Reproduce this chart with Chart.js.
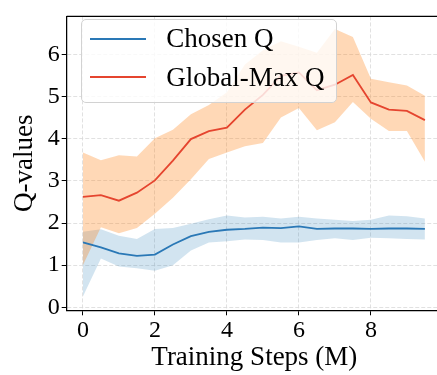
<!DOCTYPE html>
<html><head><meta charset="utf-8">
<script src="https://cdn.jsdelivr.net/npm/chart.js@4"></script>
<style>
html,body{margin:0;padding:0;background:#fff;overflow:hidden;}
#wrap{position:relative;width:437px;height:375px;overflow:hidden;}
#c{position:absolute;left:0;top:0;}
#legendBox{position:absolute;left:80.5px;top:19px;width:256.5px;height:84px;border:1px solid #d2d2d2;border-radius:5px;background:rgba(255,255,255,0.8);box-sizing:border-box;}
.lgLine{position:absolute;height:2px;width:56px;left:90px;}
.lgText{position:absolute;left:166.2px;font-family:'Liberation Serif','Times New Roman',serif;font-size:27px;line-height:27px;color:#000;white-space:nowrap;}
</style>
</head>
<body>
<div id="wrap">
<canvas id="c" width="450" height="375"></canvas>
<div id="legendBox"></div>
</div>
<script>
// ---- data ----
const steps = [0, 0.5, 1, 1.5, 2, 2.5, 3, 3.5, 4, 4.5, 5, 5.5, 6, 6.5, 7, 7.5, 8, 8.5, 9, 9.5];
const chosenMean  = [1.54, 1.42, 1.28, 1.22, 1.25, 1.49, 1.69, 1.79, 1.84, 1.86, 1.89, 1.88, 1.92, 1.86, 1.87, 1.87, 1.86, 1.87, 1.87, 1.86];
const chosenUpper = [1.79, 1.85, 1.70, 1.62, 1.86, 1.88, 1.98, 2.09, 2.18, 2.13, 2.15, 2.11, 2.15, 2.11, 2.08, 2.05, 2.08, 2.18, 2.16, 2.11];
const chosenLower = [0.26, 1.16, 0.97, 0.93, 0.87, 1.00, 1.35, 1.54, 1.57, 1.61, 1.60, 1.54, 1.54, 1.60, 1.64, 1.60, 1.65, 1.64, 1.62, 1.61];
const globalMean  = [2.62, 2.66, 2.53, 2.72, 3.01, 3.48, 3.99, 4.18, 4.26, 4.69, 5.04, 5.49, 5.57, 5.15, 5.28, 5.51, 4.86, 4.69, 4.66, 4.44];
const globalUpper = [3.67, 3.49, 3.61, 3.58, 4.01, 4.21, 4.58, 4.80, 5.10, 5.76, 6.10, 6.31, 6.18, 6.04, 6.60, 6.41, 5.42, 5.34, 5.26, 5.02];
const globalLower = [1.00, 1.90, 1.76, 1.88, 2.22, 2.60, 3.04, 3.52, 3.67, 3.82, 3.90, 4.50, 4.73, 4.20, 4.39, 4.87, 4.47, 4.18, 4.18, 3.45];
const xTicks = [0, 2, 4, 6, 8];
const yTicks = [0, 1, 2, 3, 4, 5, 6];
const seriesNames = ['Chosen Q', 'Global-Max Q'];
const xTitle = 'Training Steps (M)';
const yTitle = 'Q-values';

// ---- styles ----
const BLUE = '#2a78b6';
const RED = '#e5452f';
const BLUE_FILL = 'rgba(31,119,180,0.2)';
const ORANGE_FILL = 'rgba(255,127,14,0.3)';
const FONT = "'Liberation Serif','Times New Roman',serif";

function pts(arr) { return steps.map((x, i) => ({x: x, y: arr[i]})); }

// legend (HTML)
const wrap = document.getElementById('wrap');
[[seriesNames[0], BLUE, 38, 25.4], [seriesNames[1], RED, 76, 64.4]].forEach(([name, col, ly, ty]) => {
  const l = document.createElement('div'); l.className = 'lgLine';
  l.style.top = ly + 'px'; l.style.background = col; wrap.appendChild(l);
  const t = document.createElement('div'); t.className = 'lgText';
  t.style.top = ty + 'px'; t.textContent = name; wrap.appendChild(t);
});

const framePlugin = {
  id: 'frame',
  afterDatasetsDraw(chart) {
    const {ctx, chartArea: a} = chart;
    ctx.save();
    ctx.strokeStyle = '#000'; ctx.lineWidth = 1.25;
    ctx.beginPath();
    ctx.moveTo(a.left, a.top); ctx.lineTo(a.right, a.top); ctx.lineTo(a.right, a.bottom);
    ctx.stroke();
    ctx.restore();
  }
};

const gridOpts = {color: '#d9d9d9', lineWidth: 0.8, tickLength: 5, tickColor: '#000', tickWidth: 1, tickBorderDash: []};
const borderOpts = {display: true, color: '#000', width: 1.25, dash: [4, 2]};

new Chart(document.getElementById('c'), {
  type: 'line',
  data: {
    datasets: [
      {label: seriesNames[0], data: pts(chosenMean), borderColor: BLUE, borderWidth: 1.8, pointRadius: 0, fill: false, tension: 0, order: 0},
      {label: seriesNames[1], data: pts(globalMean), borderColor: RED, borderWidth: 1.8, pointRadius: 0, fill: false, tension: 0, order: 1},
      {label: 'chosenUpper', data: pts(chosenUpper), borderColor: 'rgba(0,0,0,0)', borderWidth: 0, pointRadius: 0, fill: '+1', backgroundColor: BLUE_FILL, tension: 0, order: 3},
      {label: 'chosenLower', data: pts(chosenLower), borderColor: 'rgba(0,0,0,0)', borderWidth: 0, pointRadius: 0, fill: false, tension: 0, order: 3},
      {label: 'globalUpper', data: pts(globalUpper), borderColor: 'rgba(0,0,0,0)', borderWidth: 0, pointRadius: 0, fill: '+1', backgroundColor: ORANGE_FILL, tension: 0, order: 2},
      {label: 'globalLower', data: pts(globalLower), borderColor: 'rgba(0,0,0,0)', borderWidth: 0, pointRadius: 0, fill: false, tension: 0, order: 2}
    ]
  },
  options: {
    responsive: false,
    animation: false,
    devicePixelRatio: 1,
    layout: {padding: {left: 0, top: 4.7, right: 8, bottom: 0}},
    plugins: {legend: {display: false}, tooltip: {enabled: false}},
    scales: {
      x: {
        type: 'linear', min: -0.45, max: 9.975,
        afterBuildTicks: s => { s.ticks = xTicks.map(v => ({value: v})); },
        afterFit: s => { s.height = 64.7; },
        ticks: {font: {family: FONT, size: 24}, color: '#000', padding: 1, maxRotation: 0},
        grid: gridOpts,
        border: borderOpts,
        title: {display: true, text: xTitle, font: {family: FONT, size: 27}, color: '#000', padding: {top: 0, bottom: 1}}
      },
      y: {
        type: 'linear', min: -0.07, max: 6.9,
        afterBuildTicks: s => { s.ticks = yTicks.map(v => ({value: v})); },
        afterFit: s => { s.width = 66.7; },
        ticks: {font: {family: FONT, size: 24}, color: '#000', padding: 2},
        grid: gridOpts,
        border: borderOpts,
        title: {display: true, text: yTitle, font: {family: FONT, size: 27}, color: '#000', padding: {top: 8.7, bottom: 0}}
      }
    }
  },
  plugins: [framePlugin]
});
</script>
</body></html>
